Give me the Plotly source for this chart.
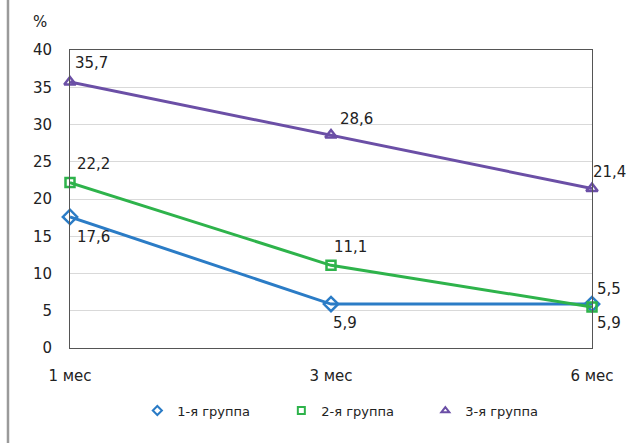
import plotly.graph_objects as go

# Follow-up time points and share (%) per group
periods = ["1 мес", "3 мес", "6 мес"]
group_names = ["1-я группа", "2-я группа", "3-я группа"]
group1 = [17.6, 5.9, 5.9]
group2 = [22.2, 11.1, 5.5]
group3 = [35.7, 28.6, 21.4]
y_ticks = [0, 5, 10, 15, 20, 25, 30, 35, 40]

colors = ["#2b7cc6", "#2eb34b", "#6b4fa6"]
symbols = ["diamond-open", "square-open", "triangle-up-open"]
marker_sizes = [11, 9, 10]

# value-label offsets (px) from each point: (dx, dy), dy positive = up
label_offsets = [
    [(23, -20), (14, -19), (17, -19)],
    [(23, 19), (19, 18), (17, 18)],
    [(21, 19), (25, 16), (17, 17)],
]

FONT = "DejaVu Sans, Verdana, sans-serif"

def fmt(v):
    return f"{v:.1f}".replace(".", ",")

fig = go.Figure()
annotations = []
for name, vals, col, sym, ms, offs in zip(group_names, [group1, group2, group3],
                                          colors, symbols, marker_sizes, label_offsets):
    fig.add_trace(go.Scatter(
        x=periods, y=vals, mode="lines+markers",
        line=dict(color=col, width=3),
        marker=dict(symbol=sym, size=ms, color=col, line=dict(width=2.5, color=col)),
        showlegend=False, hoverinfo="skip", cliponaxis=False,
    ))
    # legend entry: marker only
    fig.add_trace(go.Scatter(
        x=[None], y=[None], mode="markers", name=name,
        marker=dict(symbol=sym, size=7, color=col, line=dict(width=2, color=col)),
    ))
    for p, v, (dx, dy) in zip(periods, vals, offs):
        annotations.append(dict(
            x=p, y=v, xref="x", yref="y", text=fmt(v), showarrow=False,
            xanchor="center", yanchor="middle", xshift=dx, yshift=dy,
            font=dict(family=FONT, size=15, color="#222222"),
        ))

annotations.append(dict(text="%", xref="paper", yref="paper", x=-0.0584, y=1.094,
                        xanchor="center", yanchor="middle", showarrow=False,
                        font=dict(family=FONT, size=15, color="#222222")))

fig.update_layout(
    width=640, height=443,
    margin=dict(l=70, r=48, t=50, b=95),
    paper_bgcolor="white", plot_bgcolor="white",
    font=dict(family=FONT, size=15, color="#222222"),
    legend=dict(orientation="h", x=0.129, xanchor="left", y=-0.21, yanchor="middle",
                font=dict(family=FONT, size=13, color="#222222"),
                entrywidth=99, itemwidth=30, traceorder="normal"),
    xaxis=dict(
        type="category", range=[0, 2],
        showline=True, linecolor="#555555", linewidth=1, mirror=True,
        showgrid=False, ticks="", ticklabelstandoff=14,
        tickfont=dict(family=FONT, size=15, color="#222222"),
    ),
    yaxis=dict(
        range=[0, 40], tickvals=y_ticks,
        showline=True, linecolor="#555555", linewidth=1, mirror=True,
        showgrid=True, gridcolor="#d9d9d9", gridwidth=1, zeroline=False,
        ticks="", ticklabelstandoff=14,
        tickfont=dict(family=FONT, size=15, color="#222222"),
    ),
    shapes=[dict(type="line", xref="paper", yref="paper",
                 x0=-0.1188, x1=-0.1188, y0=-0.33, y1=1.2,
                 line=dict(color="#9a9a9a", width=2.5))],
    annotations=annotations,
)

fig.write_html("out.html")
